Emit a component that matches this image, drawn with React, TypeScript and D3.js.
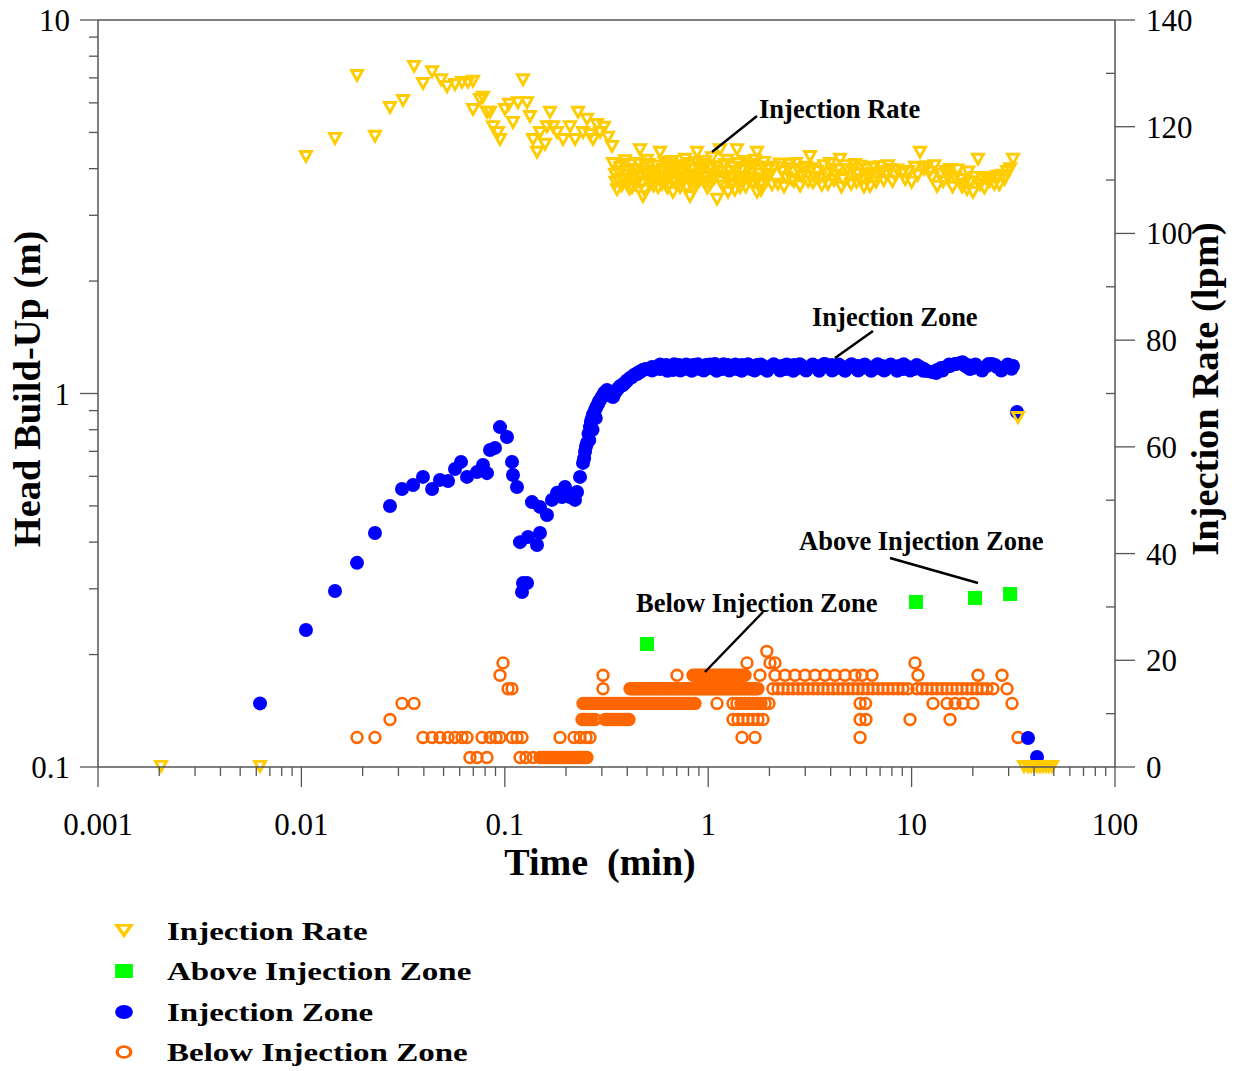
import React from 'react';
import * as d3 from 'd3';

// ---------- Axis tick labels ----------
const xMajorTicks = [0.001, 0.01, 0.1, 1, 10, 100];
const xTickLabels = ['0.001', '0.01', '0.1', '1', '10', '100'];
const yLeftMajorTicks = [0.1, 1, 10];
const yLeftLabels = ['0.1', '1', '10'];
const yRightMajorTicks = [0, 20, 40, 60, 80, 100, 120, 140];
const yRightMinorTicks = [10, 30, 50, 70, 90, 110, 130];

// ---------- Series: [time (min), value] ----------
// Injection rate (lpm), right axis
const injectionRate: [number, number][] = [
  [0.00204, 0], [0.00626, 0], [0.01053, 114.3], [0.01463, 117.7], [0.01877, 129.5], [0.023, 118.1],
  [0.02726, 123.5], [0.0316, 124.8], [0.0358, 131.2], [0.0396, 128.0], [0.0439, 130.2], [0.0486, 128.7],
  [0.052, 127.4], [0.0569, 127.8], [0.0616, 128.2], [0.0659, 128.2], [0.0698, 128.4], [0.0698, 123.1],
  [0.0755, 125.0], [0.0781, 125.4], [0.0817, 122.6], [0.0846, 122.6], [0.0875, 119.9], [0.0926, 118.8],
  [0.0947, 117.5], [0.1002, 123.1], [0.1049, 124.1], [0.1097, 120.7], [0.1161, 124.4], [0.1229, 128.7],
  [0.1286, 124.4], [0.133, 121.8], [0.1376, 117.5], [0.144, 115.1], [0.1489, 118.8], [0.1576, 116.6],
  [0.1612, 119.9], [0.1668, 122.6], [0.1726, 119.9], [0.1806, 118.8], [0.1932, 117.5], [0.2092, 119.9],
  [0.2214, 117.5], [0.229, 122.6], [0.2424, 118.8], [0.2535, 121.3], [0.2623, 118.4], [0.2714, 117.5],
  [0.284, 120.3], [0.2938, 118.8], [0.3074, 119.8], [0.3217, 117.9], [0.3365, 116.2],
  [0.348, 111.0], [0.356, 108.1], [0.369, 112.3], [0.381, 110.0], [0.394, 111.5], [0.403, 109.1],
  [0.417, 112.8], [0.432, 110.4], [0.447, 111.9], [0.462, 115.6], [0.473, 109.4], [0.478, 106.8],
  [0.495, 111.0], [0.512, 112.8], [0.529, 110.0], [0.548, 111.5], [0.567, 108.5], [0.579, 115.1],
  [0.6, 111.9], [0.62, 109.6], [0.642, 112.8], [0.656, 110.6], [0.671, 107.6], [0.695, 112.3],
  [0.719, 110.0], [0.743, 111.5], [0.769, 113.8], [0.796, 110.4], [0.814, 106.8], [0.842, 111.9],
  [0.861, 109.1], [0.881, 115.1], [0.911, 111.0], [0.943, 112.8], [0.975, 109.6], [1.009, 111.9],
  [1.044, 114.1], [1.08, 110.4], [1.105, 106.3], [1.143, 115.6], [1.169, 111.5], [1.209, 112.8],
  [1.251, 107.6], [1.28, 110.4], [1.324, 112.3], [1.385, 115.6], [1.417, 109.6], [1.466, 111.9],
  [1.517, 113.4], [1.569, 110.0], [1.623, 111.5], [1.68, 112.8], [1.738, 107.6], [1.738, 115.1],
  [1.797, 111.0], [1.86, 112.3], [1.924, 109.6],
  [0.36, 110.0], [0.386, 112.8], [0.422, 108.5], [0.452, 110.4], [0.489, 112.8], [0.517, 109.1],
  [0.554, 110.4], [0.593, 109.1], [0.634, 111.5], [0.679, 110.0], [0.727, 108.5], [0.778, 111.9],
  [0.832, 110.0], [0.891, 112.3], [0.954, 110.4], [1.021, 109.1], [1.092, 112.3], [1.156, 109.6],
  [1.223, 110.4], [1.309, 109.1], [1.37, 111.5], [1.434, 108.5], [1.5, 110.4], [1.605, 112.8],
  [1.718, 110.0], [1.839, 109.1], [1.968, 111.9],
  [0.34, 113.0], [0.35, 109.5], [0.365, 111.2], [0.375, 108.8], [0.39, 113.5], [0.4, 110.8],
  [0.41, 108.2], [0.425, 111.8], [0.44, 109.0], [0.455, 113.0], [0.465, 110.6], [0.485, 108.0],
  [0.5, 113.6], [0.52, 111.2], [0.54, 108.8], [0.56, 112.5], [0.585, 110.2], [0.61, 113.2],
  [0.63, 108.4], [0.65, 111.0], [0.665, 113.4], [0.69, 109.4], [0.71, 112.0], [0.735, 109.8],
  [0.76, 112.6], [0.785, 108.6], [0.805, 113.0], [0.825, 110.8], [0.85, 108.2], [0.87, 113.2],
  [0.9, 109.6], [0.93, 111.4], [0.965, 113.4], [0.99, 108.4], [1.03, 112.4], [1.06, 110.0],
  [1.12, 111.6], [1.18, 108.8], [1.24, 113.6], [1.3, 110.6], [1.35, 108.0], [1.4, 113.0],
  [1.45, 110.2], [1.53, 108.6], [1.58, 112.2], [1.65, 109.4], [1.7, 113.6], [1.76, 110.2],
  [1.82, 108.0], [1.88, 113.2], [1.95, 110.8],
  [2.013, 111.0], [2.106, 112.3], [2.204, 109.1], [2.306, 111.5], [2.413, 110.4], [2.525, 112.8],
  [2.641, 109.6], [2.764, 111.9], [2.892, 110.6], [3.026, 112.3], [3.166, 114.3], [3.276, 109.4],
  [3.427, 111.5], [3.546, 110.4], [3.71, 112.6], [3.882, 109.1], [4.062, 111.9], [4.25, 110.8],
  [4.446, 113.8], [4.6, 110.0], [4.813, 111.9], [5.036, 109.1], [5.269, 112.8], [5.451, 111.0],
  [5.703, 110.0], [5.967, 111.9], [6.244, 108.7], [6.533, 112.3], [6.835, 110.4], [7.152, 111.5],
  [7.482, 111.0], [7.829, 111.9], [8.286, 110.8], [9.073, 111.3], [9.6, 111.5], [10.39, 112.3],
  [11.0, 115.1], [11.51, 111.9], [11.9, 112.4], [12.6, 110.4], [13.34, 108.7], [13.95, 111.0],
  [14.76, 111.5], [15.45, 111.9], [16.35, 110.4], [17.3, 110.0], [18.1, 109.1], [18.73, 108.1],
  [19.37, 109.6], [20.04, 107.6], [20.5, 110.4], [21.21, 113.8], [22.19, 110.4], [23.49, 110.0],
  [24.85, 110.4], [26.3, 110.6], [27.83, 110.8], [29.45, 111.5], [31.52, 113.8],
  [2.06, 109.0], [2.25, 112.9], [2.36, 108.6], [2.47, 112.0], [2.58, 110.0], [2.7, 113.0],
  [2.83, 108.8], [2.96, 111.4], [3.1, 109.6], [3.22, 112.0], [3.36, 110.2], [3.62, 108.9],
  [3.79, 111.0], [3.97, 113.0], [4.15, 109.8], [4.35, 111.8], [4.52, 108.6], [4.7, 112.6],
  [4.92, 110.6], [5.15, 111.9], [5.36, 109.5], [5.58, 112.5], [5.83, 108.6], [6.1, 110.8],
  [6.39, 111.2], [6.68, 109.5], [7.0, 112.4], [7.3, 109.8], [7.65, 112.6], [8.05, 109.6],
  [8.5, 111.8], [9.3, 110.0], [10.0, 109.5], [10.7, 110.8], [12.2, 111.4], [12.95, 112.6],
  [14.3, 109.6], [15.1, 110.4], [15.9, 108.6], [16.8, 111.8], [17.7, 108.6], [19.0, 111.4],
  [21.7, 109.0], [22.8, 108.4], [24.2, 109.6], [25.5, 109.1], [27.0, 109.0], [28.6, 110.0],
  [30.5, 112.0],
  [33.36, 65.4],
  [35.7, 0], [37.36, 0], [38.64, 0], [39.98, 0], [41.36, 0], [42.79, 0], [44.26, 0], [45.8, 0],
  [47.37, 0], [49.01, 0],
];

// Above injection zone (m)
const aboveZone: [number, number][] = [
  [0.5, 0.2135], [10.51, 0.2766], [20.5, 0.2835], [30.5, 0.2905],
];

// Injection zone (m)
const injectionZone: [number, number][] = [
  [0.00626, 0.148], [0.01053, 0.2327], [0.01463, 0.296], [0.01877, 0.352], [0.023, 0.423], [0.02726, 0.5],
  [0.03124, 0.555], [0.0354, 0.569], [0.0396, 0.598], [0.0439, 0.555], [0.048, 0.587], [0.0526, 0.583],
  [0.0569, 0.628], [0.0609, 0.656], [0.0652, 0.598], [0.073, 0.616], [0.0781, 0.644], [0.0817, 0.612],
  [0.0846, 0.706], [0.0895, 0.715], [0.0947, 0.813], [0.1025, 0.765], [0.1085, 0.656], [0.1097, 0.605],
  [0.1148, 0.562], [0.1188, 0.4], [0.1215, 0.294], [0.1229, 0.311], [0.1286, 0.311], [0.13, 0.413],
  [0.136, 0.512], [0.144, 0.393], [0.1489, 0.423], [0.1489, 0.497], [0.1612, 0.473], [0.1706, 0.519],
  [0.1806, 0.542], [0.191, 0.528], [0.1977, 0.562], [0.2092, 0.528], [0.2214, 0.519], [0.2265, 0.545],
  [0.2343, 0.598], [0.2424, 0.652], [0.248, 0.698], [0.2535, 0.737], [0.2623, 0.813], [0.2684, 0.86],
  [0.2777, 0.903], [0.2872, 0.937], [0.2938, 0.961], [0.3074, 1.003], [0.3181, 1.022], [0.3289, 0.991],
  [0.3404, 0.979], [0.356, 1.022], [0.369, 1.047], [0.381, 1.054], [0.394, 1.073], [0.4126, 1.1],
  [0.432, 1.121], [0.447, 1.128], [0.462, 1.141], [0.478, 1.156], [0.495, 1.163],
  [0.2455, 0.67], [0.2505, 0.72], [0.258, 0.78], [0.265, 0.84], [0.272, 0.88], [0.282, 0.92],
  [0.29, 0.95], [0.3, 0.98], [0.312, 1.01], [0.323, 1.0], [0.335, 0.985], [0.347, 1.0],
  [0.362, 1.035], [0.375, 1.05], [0.387, 1.065], [0.4, 1.085], [0.42, 1.105], [0.44, 1.125],
  [0.455, 1.14], [0.47, 1.15], [0.485, 1.16], [0.26, 0.75], [0.27, 0.8], [0.28, 0.86],
  [0.512, 1.163], [0.529, 1.177], [0.548, 1.17], [0.567, 1.185], [0.579, 1.163], [0.6, 1.177],
  [0.62, 1.192], [0.642, 1.17], [0.656, 1.185], [0.671, 1.156], [0.695, 1.177], [0.719, 1.192],
  [0.743, 1.17], [0.769, 1.185], [0.796, 1.163], [0.814, 1.178], [0.842, 1.192], [0.861, 1.17],
  [0.881, 1.185], [0.911, 1.163], [0.943, 1.178], [0.975, 1.192], [1.009, 1.17], [1.044, 1.185],
  [1.08, 1.199], [1.105, 1.17], [1.143, 1.185], [1.169, 1.163], [1.209, 1.178], [1.251, 1.192],
  [1.28, 1.17], [1.324, 1.185], [1.385, 1.163], [1.417, 1.178], [1.466, 1.192], [1.517, 1.17],
  [1.569, 1.185], [1.623, 1.163], [1.68, 1.178], [1.738, 1.192], [1.797, 1.17], [1.86, 1.185],
  [1.924, 1.163], [2.013, 1.178], [2.106, 1.192], [2.204, 1.17], [2.306, 1.185], [2.413, 1.163],
  [2.525, 1.178], [2.641, 1.192], [2.764, 1.17], [2.892, 1.185], [3.026, 1.163], [3.166, 1.178],
  [3.276, 1.192], [3.427, 1.17], [3.546, 1.185], [3.71, 1.199], [3.882, 1.178], [4.062, 1.192],
  [4.25, 1.17], [4.446, 1.185], [4.6, 1.163], [4.813, 1.178], [5.036, 1.192], [5.269, 1.17],
  [5.451, 1.185], [5.703, 1.17], [5.967, 1.185], [6.244, 1.163], [6.533, 1.178], [6.835, 1.17],
  [7.152, 1.185], [7.482, 1.163], [7.829, 1.178], [8.286, 1.17], [8.67, 1.185], [9.073, 1.163],
  [9.6, 1.178], [10.27, 1.163], [10.39, 1.17], [11.0, 1.178], [11.51, 1.163], [11.9, 1.149],
  [12.6, 1.141], [13.34, 1.156], [13.95, 1.17], [14.76, 1.178], [15.45, 1.185], [16.35, 1.199],
  [17.3, 1.206], [18.1, 1.192], [18.73, 1.178], [19.37, 1.163], [20.04, 1.17], [20.5, 1.185],
  [21.21, 1.178], [22.19, 1.163], [23.49, 1.185], [24.85, 1.199], [26.3, 1.178], [27.83, 1.17],
  [29.45, 1.185], [31.52, 1.185],
  [0.53, 1.152], [0.58, 1.195], [0.63, 1.15], [0.68, 1.198], [0.73, 1.152], [0.78, 1.196],
  [0.83, 1.15], [0.89, 1.197], [0.95, 1.152], [1.02, 1.196], [1.1, 1.15], [1.19, 1.198],
  [1.27, 1.152], [1.36, 1.196], [1.46, 1.15], [1.57, 1.198], [1.69, 1.152], [1.81, 1.196],
  [1.95, 1.15], [2.1, 1.198], [2.26, 1.152], [2.43, 1.196], [2.62, 1.15], [2.82, 1.198],
  [3.03, 1.152], [3.26, 1.196], [3.51, 1.15], [3.78, 1.198], [4.07, 1.152], [4.38, 1.196],
  [4.71, 1.15], [5.07, 1.198], [5.46, 1.152], [5.88, 1.196], [6.33, 1.15], [6.81, 1.198],
  [7.33, 1.152], [7.89, 1.196], [8.49, 1.15], [9.14, 1.198], [9.84, 1.152], [10.6, 1.192],
  [11.4, 1.15], [13.2, 1.135], [14.2, 1.152], [15.3, 1.196], [16.5, 1.2], [17.8, 1.213],
  [19.1, 1.19], [20.6, 1.196], [22.2, 1.152], [23.9, 1.2], [25.7, 1.192], [27.6, 1.152],
  [29.7, 1.196], [31.0, 1.165],
  [32.98, 0.892], [37.36, 0.1196], [41.36, 0.1064],
];

// Below injection zone (m)
const belowZone: [number, number][] = [
  [0.01877, 0.12], [0.023, 0.12], [0.02726, 0.134], [0.03124, 0.148], [0.0358, 0.148],
  [0.0396, 0.12], [0.0439, 0.12], [0.048, 0.12], [0.0526, 0.12], [0.0569, 0.12], [0.0616, 0.12], [0.0652, 0.12],
  [0.0674, 0.106], [0.073, 0.106], [0.0817, 0.106],
  [0.0773, 0.12], [0.0846, 0.12], [0.0905, 0.12], [0.0947, 0.12],
  [0.0947, 0.176], [0.098, 0.19], [0.1037, 0.162], [0.1085, 0.162],
  [0.1085, 0.12], [0.1148, 0.12], [0.1215, 0.12],
  [0.1188, 0.106], [0.1271, 0.106], [0.1376, 0.106],
  [0.1489, 0.106], [0.1558, 0.106], [0.1631, 0.106], [0.1706, 0.106], [0.1785, 0.106], [0.1868, 0.106],
  [0.1954, 0.106], [0.2045, 0.106], [0.214, 0.106], [0.2239, 0.106], [0.2343, 0.106], [0.2452, 0.106], [0.2535, 0.106],
  [0.152, 0.106], [0.159, 0.106], [0.167, 0.106], [0.174, 0.106], [0.182, 0.106], [0.191, 0.106],
  [0.2, 0.106], [0.209, 0.106], [0.219, 0.106], [0.229, 0.106], [0.24, 0.106], [0.25, 0.106],
  [0.1868, 0.12], [0.2189, 0.12], [0.2343, 0.12], [0.2507, 0.12], [0.2623, 0.12],
  [0.2397, 0.134], [0.2507, 0.134], [0.2623, 0.134], [0.2777, 0.134], [0.3109, 0.134], [0.3252, 0.134],
  [0.3404, 0.134], [0.356, 0.134], [0.3727, 0.134], [0.3899, 0.134], [0.4079, 0.134],
  [0.244, 0.134], [0.256, 0.134], [0.268, 0.134], [0.318, 0.134], [0.333, 0.134], [0.348, 0.134],
  [0.364, 0.134], [0.381, 0.134], [0.399, 0.134],
  [0.3039, 0.176], [0.3039, 0.162],
  [0.2424, 0.148], [0.2535, 0.148], [0.2653, 0.148], [0.2777, 0.148], [0.2905, 0.148], [0.3039, 0.148],
  [0.3181, 0.148], [0.3327, 0.148], [0.348, 0.148], [0.3643, 0.148], [0.381, 0.148], [0.399, 0.148],
  [0.417, 0.148], [0.4367, 0.148], [0.4569, 0.148], [0.478, 0.148], [0.5, 0.148], [0.5233, 0.148],
  [0.548, 0.148], [0.5729, 0.148], [0.6, 0.148], [0.6272, 0.148], [0.656, 0.148], [0.6867, 0.148],
  [0.719, 0.148], [0.7518, 0.148], [0.7867, 0.148], [0.823, 0.148], [0.861, 0.148], [1.105, 0.148],
  [0.248, 0.148], [0.259, 0.148], [0.271, 0.148], [0.284, 0.148], [0.297, 0.148], [0.311, 0.148],
  [0.325, 0.148], [0.34, 0.148], [0.356, 0.148], [0.372, 0.148], [0.39, 0.148], [0.408, 0.148],
  [0.427, 0.148], [0.447, 0.148], [0.467, 0.148], [0.489, 0.148], [0.512, 0.148], [0.535, 0.148],
  [0.56, 0.148], [0.586, 0.148], [0.613, 0.148], [0.641, 0.148], [0.671, 0.148], [0.702, 0.148],
  [0.735, 0.148], [0.769, 0.148], [0.805, 0.148], [0.842, 0.148],
  [1.324, 0.148], [1.385, 0.148], [1.45, 0.148], [1.517, 0.148], [1.587, 0.148], [1.661, 0.148],
  [1.738, 0.148], [1.818, 0.148], [1.903, 0.148], [1.99, 0.148], [5.58, 0.148], [5.94, 0.148],
  [12.74, 0.148], [14.93, 0.148], [16.35, 0.148], [17.89, 0.148], [20.04, 0.148], [31.17, 0.148],
  [0.4126, 0.162], [0.432, 0.162], [0.4518, 0.162], [0.473, 0.162], [0.495, 0.162], [0.5174, 0.162],
  [0.5413, 0.162], [0.567, 0.162], [0.5928, 0.162], [0.62, 0.162], [0.6489, 0.162], [0.679, 0.162],
  [0.7104, 0.162], [0.743, 0.162], [0.7779, 0.162], [0.814, 0.162], [0.8516, 0.162], [0.8911, 0.162],
  [0.932, 0.162], [0.975, 0.162], [1.021, 0.162], [1.068, 0.162], [1.117, 0.162], [1.169, 0.162],
  [1.223, 0.162], [1.28, 0.162], [1.339, 0.162], [1.401, 0.162], [1.466, 0.162], [1.534, 0.162],
  [1.605, 0.162], [1.68, 0.162], [1.757, 0.162],
  [0.422, 0.162], [0.442, 0.162], [0.462, 0.162], [0.484, 0.162], [0.506, 0.162], [0.529, 0.162],
  [0.554, 0.162], [0.58, 0.162], [0.606, 0.162], [0.634, 0.162], [0.664, 0.162], [0.694, 0.162],
  [0.726, 0.162], [0.76, 0.162], [0.795, 0.162], [0.832, 0.162], [0.871, 0.162], [0.911, 0.162],
  [0.953, 0.162], [0.998, 0.162], [1.044, 0.162], [1.092, 0.162], [1.143, 0.162], [1.196, 0.162],
  [1.251, 0.162], [1.309, 0.162], [1.37, 0.162], [1.433, 0.162], [1.5, 0.162], [1.57, 0.162],
  [1.642, 0.162], [1.718, 0.162],
  [2.078, 0.162], [2.204, 0.162], [2.332, 0.162],
  [2.469, 0.162], [2.612, 0.162], [2.764, 0.162], [2.925, 0.162], [3.095, 0.162], [3.276, 0.162],
  [3.467, 0.162], [3.668, 0.162], [3.882, 0.162], [4.108, 0.162], [4.347, 0.162], [4.6, 0.162],
  [4.867, 0.162], [5.151, 0.162], [5.451, 0.162], [5.768, 0.162], [6.104, 0.162], [6.459, 0.162],
  [6.835, 0.162], [7.234, 0.162], [7.656, 0.162], [8.101, 0.162], [8.574, 0.162], [9.073, 0.162],
  [9.6, 0.162], [10.63, 0.162], [11.25, 0.162], [11.9, 0.162], [12.6, 0.162], [13.34, 0.162],
  [14.11, 0.162], [14.93, 0.162], [15.8, 0.162], [16.72, 0.162], [17.69, 0.162], [18.73, 0.162],
  [19.82, 0.162], [20.97, 0.162], [22.19, 0.162], [23.49, 0.162], [25.13, 0.162], [29.45, 0.162],
  [0.7024, 0.176], [0.842, 0.176], [0.881, 0.176], [0.922, 0.176], [0.9645, 0.176], [1.009, 0.176],
  [1.056, 0.176], [1.105, 0.176], [1.156, 0.176], [1.209, 0.176], [1.266, 0.176], [1.324, 0.176],
  [1.385, 0.176], [1.45, 0.176], [1.517, 0.176],
  [0.862, 0.176], [0.901, 0.176], [0.943, 0.176], [0.986, 0.176], [1.032, 0.176], [1.08, 0.176],
  [1.13, 0.176], [1.182, 0.176], [1.237, 0.176], [1.295, 0.176], [1.354, 0.176], [1.417, 0.176],
  [1.483, 0.176],
  [1.797, 0.176], [2.13, 0.176], [2.386, 0.176],
  [2.671, 0.176], [2.991, 0.176], [3.35, 0.176], [3.752, 0.176], [4.202, 0.176], [4.706, 0.176],
  [5.269, 0.176], [5.703, 0.176], [6.389, 0.176], [10.75, 0.176], [21.21, 0.176], [27.83, 0.176],
  [1.551, 0.19], [2.013, 0.19], [2.13, 0.19], [10.39, 0.19], [1.942, 0.204],
  [1.324, 0.134], [1.401, 0.134], [1.483, 0.134], [1.569, 0.134], [1.661, 0.134], [1.757, 0.134],
  [1.86, 0.134], [5.58, 0.134], [5.967, 0.134], [9.82, 0.134], [15.45, 0.134],
  [1.466, 0.12], [1.699, 0.12], [5.58, 0.12], [33.36, 0.12],
];

// Legend entries
const legendLabels = ['Injection Rate', 'Above Injection Zone', 'Injection Zone', 'Below Injection Zone'];

const FONT = '"Liberation Serif", "Times New Roman", Times, serif';
const YELLOW = '#FFCC00';
const GREEN = '#00FF00';
const BLUE = '#0000FF';
const ORANGE = '#FF6600';
const AXIS = '#555555';

const TRI = 'M-5.5,-5.6L5.5,-5.6L0,4.4Z';

export default function App() {
  const W = 1235;
  const H = 1071;
  const x = d3.scaleLog().domain([0.001, 100]).range([98, 1115]);
  const yL = d3.scaleLog().domain([0.1, 10]).range([767, 20]);
  const yR = d3.scaleLinear().domain([0, 140]).range([767, 20]);

  const isMajor = (v: number) => Math.abs(Math.log10(v) - Math.round(Math.log10(v))) < 1e-6;
  const xTicks = x.ticks();
  const yLTicks = yL.ticks();

  const left = x.range()[0];
  const right = x.range()[1];
  const top = yL.range()[1];
  const bottom = yL.range()[0];

  const legendScale = 1.27;
  const legendRows = [931, 971, 1012, 1052];

  return (
    <svg width={W} height={H} style={{ position: 'absolute', left: 0, top: 0, background: '#fff' }}
      fontFamily={FONT}>
      <rect x={0} y={0} width={W} height={H} fill="#fff" />

      {/* Below injection zone: open circles */}
      <g>
        {belowZone.map((d, i) => (
          <circle key={'b' + i} cx={x(d[0])} cy={yL(d[1])} r={5.4} fill="none" stroke={ORANGE} strokeWidth={2.6} />
        ))}
      </g>
      {/* Injection zone: filled circles */}
      <g>
        {injectionZone.map((d, i) => (
          <circle key={'z' + i} cx={x(d[0])} cy={yL(d[1])} r={7} fill={BLUE} />
        ))}
      </g>
      {/* Above injection zone: squares */}
      <g>
        {aboveZone.map((d, i) => (
          <rect key={'a' + i} x={x(d[0]) - 7} y={yL(d[1]) - 7} width={14} height={14} fill={GREEN} />
        ))}
      </g>
      {/* Injection rate: open down triangles */}
      <g>
        {injectionRate.map((d, i) => (
          <path key={'r' + i} d={TRI} transform={`translate(${x(d[0])},${yR(d[1])})`} fill="none"
            stroke={YELLOW} strokeWidth={2.9} />
        ))}
      </g>

      {/* Frame */}
      <g stroke={AXIS} strokeWidth={1.5} fill="none">
        <line x1={left} y1={top} x2={right} y2={top} />
        <line x1={left} y1={bottom} x2={right} y2={bottom} />
        <line x1={left} y1={top} x2={left} y2={bottom} />
        <line x1={right} y1={top} x2={right} y2={bottom} />
      </g>

      {/* X ticks */}
      <g stroke={AXIS} strokeWidth={1.3}>
        {xTicks.map((t, i) => (
          <line key={'xt' + i} x1={x(t)} x2={x(t)} y1={bottom} y2={bottom + (isMajor(t) ? 20 : 9)} />
        ))}
      </g>
      <g fontSize={31} textAnchor="middle" fill="#000" fontFamily={FONT}>
        {xMajorTicks.map((t, i) => (
          <text key={'xl' + i} x={x(t)} y={835}>{xTickLabels[i]}</text>
        ))}
      </g>

      {/* Left ticks */}
      <g stroke={AXIS} strokeWidth={1.3}>
        {yLTicks.map((t, i) => (
          <line key={'yt' + i} x1={left - (isMajor(t) ? 18 : 9)} x2={left} y1={yL(t)} y2={yL(t)} />
        ))}
      </g>
      <g fontSize={31} textAnchor="end" fill="#000" fontFamily={FONT}>
        {yLeftMajorTicks.map((t, i) => (
          <text key={'yl' + i} x={70} y={yL(t) + 11}>{yLeftLabels[i]}</text>
        ))}
      </g>

      {/* Right ticks */}
      <g stroke={AXIS} strokeWidth={1.3}>
        {yRightMajorTicks.map((t, i) => (
          <line key={'rt' + i} x1={right} x2={right + 20} y1={yR(t)} y2={yR(t)} />
        ))}
        {yRightMinorTicks.map((t, i) => (
          <line key={'rm' + i} x1={right - 9} x2={right} y1={yR(t)} y2={yR(t)} />
        ))}
      </g>
      <g fontSize={31} textAnchor="start" fill="#000" fontFamily={FONT}>
        {yRightMajorTicks.map((t, i) => (
          <text key={'rl' + i} x={1146} y={yR(t) + 11}>{String(t)}</text>
        ))}
      </g>

      {/* Axis titles */}
      <text x={600} y={875} fontSize={38} fontWeight="bold" textAnchor="middle" style={{ whiteSpace: 'pre' }}>
        {'Time  (min)'}
      </text>
      <text transform="translate(40,389) rotate(-90)" fontSize={38.5} fontWeight="bold" textAnchor="middle">
        Head Build-Up (m)
      </text>
      <text transform="translate(1218,389) rotate(-90)" fontSize={38.5} fontWeight="bold" textAnchor="middle">
        Injection Rate (lpm)
      </text>

      {/* Annotations */}
      <g fontSize={26.5} fontWeight="bold" fill="#000">
        <text x={759} y={118}>Injection Rate</text>
        <text x={812} y={326}>Injection Zone</text>
        <text x={799} y={550}>Above Injection Zone</text>
        <text x={636} y={612}>Below Injection Zone</text>
      </g>
      <g stroke="#000" strokeWidth={2.5}>
        <line x1={712} y1={152} x2={757} y2={116} />
        <line x1={835} y1={358} x2={873} y2={331} />
        <line x1={890} y1={558} x2={978} y2={583} />
        <line x1={763} y1={612} x2={705} y2={672} />
      </g>

      {/* Legend (horizontally stretched) */}
      <g transform={`scale(${legendScale},1)`}>
        <path d={TRI} transform={`translate(${124 / legendScale},${legendRows[0]})`} fill="none" stroke={YELLOW} strokeWidth={2.9} />
        <rect x={124 / legendScale - 7} y={legendRows[1] - 7} width={14} height={14} fill={GREEN} />
        <circle cx={124 / legendScale} cy={legendRows[2]} r={7} fill={BLUE} />
        <circle cx={124 / legendScale} cy={legendRows[3]} r={5.4} fill="none" stroke={ORANGE} strokeWidth={2.6} />
        <g fontSize={26} fontWeight="bold" fill="#000">
          {legendLabels.map((l, i) => (
            <text key={'lg' + i} x={167 / legendScale} y={legendRows[i] + 9}>{l}</text>
          ))}
        </g>
      </g>
    </svg>
  );
}
